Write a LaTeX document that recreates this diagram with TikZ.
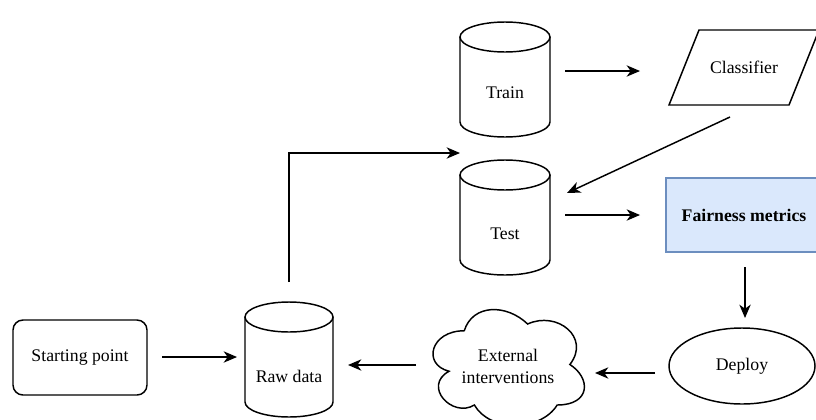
\documentclass[tikz,border=0pt]{standalone}
\usepackage{fontspec}
\setmainfont{Liberation Serif}
\usetikzlibrary{arrows.meta,calc,shapes.geometric}
\definecolor{metricfill}{HTML}{DAE8FC}
\definecolor{metricdraw}{HTML}{6C8EBF}

% database drum: centre x, centre y, half width (body height 115 units)
\newcommand\dbdrum[3]{%
  \draw[outline] (#1-#3,#2+42.5) -- (#1-#3,#2-42.5)
    arc[start angle=180,end angle=360,x radius=#3,y radius=15]
    -- (#1+#3,#2+42.5);
  \draw[outline] (#1,#2+42.5) ellipse[x radius=#3,y radius=15];
}

\begin{document}
\begin{tikzpicture}[x=0.75pt,y=0.75pt,
  outline/.style={line width=1.1pt},
  arr/.style={line width=1.1pt,-{Stealth[length=10pt,width=8.5pt,inset=3pt]}},
  every node/.style={font=\fontsize{13.3}{16.5}\selectfont}]
\useasboundingbox (0,0) rectangle (816,419);
\fill[white] (0,0) rectangle (816,419);

% data stores
\dbdrum{505}{339.5}{45}
\dbdrum{505}{201.5}{45}
\dbdrum{289}{59.5}{44}
\node (train) at (505,326) {Train};
\node (test) at (505,185) {Test};
\node (raw) at (289,43) {Raw data};

% classifier (parallelogram)
\node (cls) at (744,351.5) {Classifier};
\draw[outline] ($(cls)+(-75,-37.5)$) -- ($(cls)+(45,-37.5)$)
  -- ($(cls)+(75,37.5)$) -- ($(cls)+(-45,37.5)$) -- cycle;

% metrics box
\node[draw=metricdraw,fill=metricfill,line width=1.1pt,
  minimum width=117pt,minimum height=55.5pt] (fair) at (744,204)
  {\textbf{Fairness metrics}};

% deployment
\node[draw,outline,ellipse,inner sep=0pt,
  minimum width=109.5pt,minimum height=57pt] (deploy) at (742,53) {Deploy};

% external interventions cloud
\begin{scope}[shift={(422,122)},xscale=169,yscale=-135]
\draw[outline] (0.25,0.25)
  .. controls (0.05,0.25) and (0,0.5) .. (0.16,0.55)
  .. controls (0,0.66) and (0.18,0.9) .. (0.31,0.8)
  .. controls (0.4,1) and (0.7,1) .. (0.8,0.8)
  .. controls (1,0.8) and (1,0.6) .. (0.875,0.5)
  .. controls (1,0.3) and (0.8,0.1) .. (0.625,0.2)
  .. controls (0.5,0.05) and (0.3,0.05) .. (0.25,0.25) -- cycle;
\end{scope}
\node[align=center] (ext) at (508,53) {External\\interventions};

% starting point
\node[draw,outline,rounded corners=7.5pt,
  minimum width=100.5pt,minimum height=56.25pt] (start) at (80,61.5) {Starting point};

% connectors
\draw[arr] ($(start)+(82,0.5)$) -- ($(raw)+(-52,19)$);
\draw[arr] ($(ext)+(-92,1)$) -- ($(raw)+(59,11)$);
\draw[arr] ($(deploy)+(-87,-7)$) -- ($(ext)+(87,-7)$);
\draw[arr] ($(fair)+(1,-52)$) -- ($(deploy)+(3,48)$);
\draw[arr] ($(test)+(60,19)$) -- ($(fair)+(-104,0)$);
\draw[arr] ($(train)+(60,22)$) -- ($(cls)+(-104,-3.5)$);
\draw[arr] ($(cls)+(-14,-49.5)$) -- ($(test)+(62,41)$);
\draw[arr] ($(raw)+(0,94)$) |- ($(test)+(-45,81)$);
\end{tikzpicture}
\end{document}
